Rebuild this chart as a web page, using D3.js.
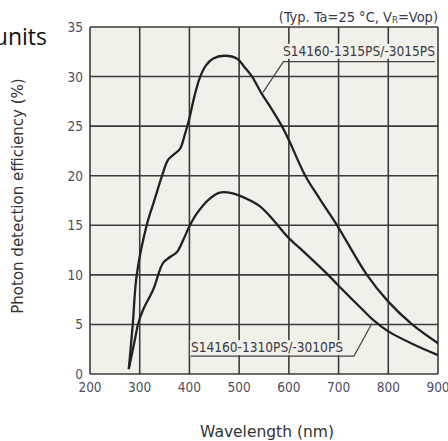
<!DOCTYPE html>
<html>
<head>
<meta charset="utf-8">
<script src="https://cdn.jsdelivr.net/npm/d3@7"></script>
<style>
  body { margin: 0; background: #fff; }
  svg { display: block; }
</style>
</head>
<body>
<div id="chart"></div>
<script>
// data
var xTicks = [200, 300, 400, 500, 600, 700, 800, 900];
var yTicks = [0, 5, 10, 15, 20, 25, 30, 35];

var wl15 = [278, 286, 294, 314, 330, 345, 357, 370, 381, 391, 400, 410, 421, 433, 447, 470, 496, 510, 526, 545, 562, 586, 600, 633, 663, 697, 757, 800, 848, 900];
var pde15 = [0.5, 5, 10, 15, 17.6, 20, 21.6, 22.2, 22.7, 24.2, 25.8, 28.0, 29.9, 31.1, 31.8, 32.1, 31.8, 31.0, 30, 28.3, 27, 25, 23.6, 20, 17.6, 15, 10, 7.3, 5, 3.1];

var wl10 = [278, 290, 297, 307, 327, 347, 361, 375, 390, 400, 415, 441, 461, 480, 500, 542, 600, 622, 679, 700, 750, 773, 800, 850, 900];
var pde10 = [0.5, 3.4, 5.1, 6.5, 8.5, 11.2, 11.8, 12.3, 13.8, 14.9, 16.2, 17.7, 18.3, 18.3, 18.0, 16.9, 13.7, 12.7, 10, 8.9, 6.4, 5.3, 4.3, 3.0, 1.9];

var name15 = "S14160-1315PS/-3015PS";
var name10 = "S14160-1310PS/-3010PS";

var W = 448, H = 441;
var x = d3.scaleLinear().domain([200, 900]).range([90, 438]);
var y = d3.scaleLinear().domain([0, 35]).range([374, 27]);

var svg = d3.select("#chart").append("svg")
  .attr("width", W)
  .attr("height", H);

var bg = "#f1f0e9";
var gridCol = "#3c3c3c";
var tickFont = "'DejaVu Sans Condensed', 'DejaVu Sans', sans-serif";

// plot background
svg.append("rect")
  .attr("x", x(200)).attr("y", y(35))
  .attr("width", x(900) - x(200)).attr("height", y(0) - y(35))
  .attr("fill", bg);

// grid
svg.append("g").selectAll("line").data(xTicks).enter().append("line")
  .attr("x1", d => x(d)).attr("x2", d => x(d))
  .attr("y1", y(0)).attr("y2", y(35))
  .attr("stroke", gridCol).attr("stroke-width", 1.6);
svg.append("g").selectAll("line").data(yTicks).enter().append("line")
  .attr("y1", d => y(d)).attr("y2", d => y(d))
  .attr("x1", x(200)).attr("x2", x(900))
  .attr("stroke", gridCol).attr("stroke-width", 1.6);

// tick labels
svg.append("g").selectAll("text").data(yTicks).enter().append("text")
  .attr("x", x(200) - 7).attr("y", d => y(d) + 5)
  .attr("text-anchor", "end")
  .attr("font-family", tickFont).attr("font-size", 13.5)
  .attr("fill", "#4e4e60")
  .text(d => d);
svg.append("g").selectAll("text").data(xTicks).enter().append("text")
  .attr("x", d => x(d)).attr("y", y(0) + 18)
  .attr("text-anchor", "middle")
  .attr("font-family", tickFont).attr("font-size", 13.5)
  .attr("fill", "#4e4e60")
  .text(d => d);

// curves
var line = d3.line()
  .x(d => x(d[0]))
  .y(d => y(d[1]))
  .curve(d3.curveCatmullRom.alpha(0.5));

svg.append("path")
  .datum(d3.zip(wl15, pde15))
  .attr("d", line)
  .attr("fill", "none").attr("stroke", "#222").attr("stroke-width", 2.3);
svg.append("path")
  .datum(d3.zip(wl10, pde10))
  .attr("d", line)
  .attr("fill", "none").attr("stroke", "#222").attr("stroke-width", 2.3);

// series labels with leader lines
function seriesLabel(name, tx, ty, anchor, ulFrom, ulTo, ulY, leadTo) {
  var g = svg.append("g");
  var t = g.append("text")
    .attr("x", x(tx)).attr("y", y(ty))
    .attr("text-anchor", anchor)
    .attr("font-family", tickFont).attr("font-size", 13.6)
    .attr("fill", "#3a3a48")
    .text(name);
  var b = t.node().getBBox();
  g.insert("rect", "text")
    .attr("x", b.x - 1).attr("y", b.y + 1)
    .attr("width", b.width + 2).attr("height", b.height - 1)
    .attr("fill", bg);
  g.append("path")
    .attr("d", "M" + x(ulFrom) + "," + y(ulY) + " L" + x(ulTo) + "," + y(ulY) +
      " L" + x(leadTo[0]) + "," + y(leadTo[1]))
    .attr("fill", "none").attr("stroke", "#444").attr("stroke-width", 1.2);
}
seriesLabel(name15, 894, 32.1, "end", 894, 589, 31.5, [548, 28.4]);
seriesLabel(name10, 403, 2.2, "start", 403, 731, 1.8, [767, 5.1]);

// condition note
var note = svg.append("text")
  .attr("x", 438).attr("y", 22)
  .attr("text-anchor", "end")
  .attr("font-family", tickFont).attr("font-size", 14.5)
  .attr("fill", "#3a3a48");
note.append("tspan").text("(Typ. Ta=25 °C, V");
note.append("tspan").attr("font-size", 9.5).attr("dy", 1).text("R");
note.append("tspan").attr("dy", -1).text("=Vop)");

// axis titles
svg.append("text")
  .attr("transform", "translate(23,196) rotate(-90)")
  .attr("text-anchor", "middle")
  .attr("font-family", "'DejaVu Sans', sans-serif").attr("font-size", 15)
  .attr("fill", "#333")
  .text("Photon detection efficiency (%)");
svg.append("text")
  .attr("x", 267).attr("y", 437)
  .attr("text-anchor", "middle")
  .attr("font-family", "'DejaVu Sans', sans-serif").attr("font-size", 15.5)
  .attr("fill", "#333")
  .text("Wavelength (nm)");

// cropped heading fragment
svg.append("text")
  .attr("x", 47).attr("y", 45)
  .attr("text-anchor", "end")
  .attr("font-family", "'Open Sans', sans-serif").attr("font-size", 23)
  .attr("fill", "#111")
  .text("units");
</script>
</body>
</html>
